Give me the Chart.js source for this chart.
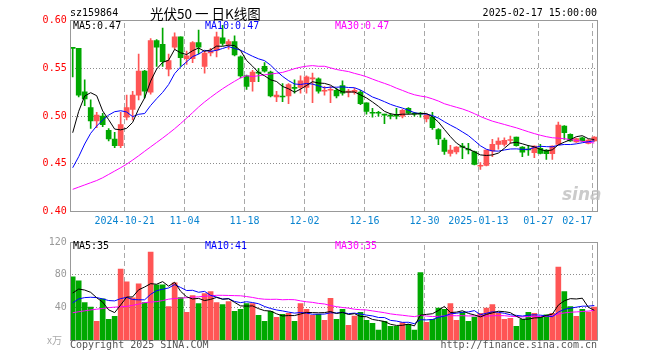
<!DOCTYPE html>
<html><head><meta charset="utf-8">
<script src="https://cdn.jsdelivr.net/npm/chart.js@4.4.1/dist/chart.umd.min.js"></script>
<style>
html,body{margin:0;padding:0;background:#fff;}
body{width:660px;height:360px;overflow:hidden;position:relative;font-family:"DejaVu Sans Mono",monospace;}
.t{position:absolute;white-space:nowrap;font-size:10px;line-height:12px;}
canvas{position:absolute;left:0;}
#c1{top:0;}
#c2{top:232px;}
</style></head><body>
<canvas id="c1" width="660" height="232"></canvas>
<canvas id="c2" width="660" height="128"></canvas>
<div class="t" style="left:70px;top:7px;color:#000">sz159864</div>
<div class="t" style="left:150px;top:4px;font-family:'Noto Sans CJK SC',sans-serif;font-size:13.5px;line-height:18px;color:#000">光伏50 一 日K线图</div>
<div class="t" style="right:63px;top:7px;color:#000">2025-02-17 15:00:00</div>
<div class="t" style="left:73px;top:20px;color:#000">MA5:0.47</div>
<div class="t" style="left:205px;top:20px;color:#00f">MA10:0.47</div>
<div class="t" style="left:335px;top:20px;color:#f0f">MA30:0.47</div>
<div class="t" style="left:73px;top:240px;color:#000">MA5:35</div>
<div class="t" style="left:205px;top:240px;color:#00f">MA10:41</div>
<div class="t" style="left:335px;top:240px;color:#f0f">MA30:35</div>
<div class="t" style="left:47px;top:334px;color:#aaa;font-family:'Noto Sans CJK SC',sans-serif;font-size:10px">x万</div>
<div class="t" style="left:70px;top:339px;color:#555">Copyright 2025 SINA.COM</div>
<div class="t" style="right:63px;top:339px;color:#555">http://finance.sina.com.cn</div>
<div class="t" style="left:562px;top:188px;color:rgba(190,190,190,0.8);font-family:'DejaVu Sans',sans-serif;font-size:17px;font-weight:bold;font-style:italic;">sina</div>
<script>
// ---------- data ----------
const dates = [
'2024-10-08','2024-10-09','2024-10-10','2024-10-11','2024-10-14','2024-10-15','2024-10-16','2024-10-17','2024-10-18',
'2024-10-21','2024-10-22','2024-10-23','2024-10-24','2024-10-25','2024-10-28','2024-10-29','2024-10-30','2024-10-31','2024-11-01',
'2024-11-04','2024-11-05','2024-11-06','2024-11-07','2024-11-08','2024-11-11','2024-11-12','2024-11-13','2024-11-14','2024-11-15',
'2024-11-18','2024-11-19','2024-11-20','2024-11-21','2024-11-22','2024-11-25','2024-11-26','2024-11-27','2024-11-28','2024-11-29',
'2024-12-02','2024-12-03','2024-12-04','2024-12-05','2024-12-06','2024-12-09','2024-12-10','2024-12-11','2024-12-12','2024-12-13',
'2024-12-16','2024-12-17','2024-12-18','2024-12-19','2024-12-20','2024-12-23','2024-12-24','2024-12-25','2024-12-26','2024-12-27',
'2024-12-30','2024-12-31','2025-01-02','2025-01-03','2025-01-06','2025-01-07','2025-01-08','2025-01-09','2025-01-10',
'2025-01-13','2025-01-14','2025-01-15','2025-01-16','2025-01-17','2025-01-20','2025-01-21','2025-01-22','2025-01-23','2025-01-24',
'2025-01-27','2025-02-05','2025-02-06','2025-02-07','2025-02-10','2025-02-11','2025-02-12','2025-02-13','2025-02-14','2025-02-17'];

const opens = [0.5712,0.571,0.5255,0.509,0.495,0.500,0.485,0.476,0.469,
0.499,0.507,0.522,0.547,0.525,0.579,0.575,0.549,0.572,0.583,
0.560,0.560,0.577,0.552,0.566,0.569,0.582,0.575,0.578,0.562,
0.542,0.536,0.546,0.552,0.546,0.520,0.521,0.521,0.530,0.530,
0.530,0.539,0.539,0.526,0.527,0.527,0.532,0.525,0.525,0.525,
0.514,0.504,0.5035,0.502,0.501,0.501,0.500,0.508,0.503,0.503,
0.497,0.499,0.486,0.475,0.461,0.4625,0.468,0.465,0.463,
0.4475,0.4485,0.4635,0.4705,0.4705,0.4745,0.478,0.4677,0.465,0.4617,
0.4662,0.4644,0.4607,0.4705,0.4896,0.481,0.473,0.4774,0.4715,0.474];
const highs = [0.571,0.571,0.538,0.517,0.504,0.503,0.487,0.483,0.504,
0.522,0.526,0.565,0.548,0.581,0.580,0.592,0.565,0.587,0.583,
0.568,0.578,0.590,0.568,0.571,0.588,0.595,0.580,0.584,0.563,
0.543,0.548,0.550,0.556,0.547,0.526,0.534,0.534,0.538,0.542,
0.542,0.545,0.540,0.531,0.531,0.529,0.537,0.528,0.529,0.527,
0.514,0.508,0.505,0.502,0.503,0.508,0.507,0.509,0.504,0.504,
0.502,0.504,0.487,0.477,0.4695,0.468,0.4715,0.4715,0.4635,
0.4513,0.4645,0.4757,0.4774,0.4774,0.479,0.478,0.468,0.4695,0.469,
0.4705,0.465,0.469,0.4938,0.490,0.4815,0.477,0.478,0.4755,0.4785];
const lows = [0.541,0.520,0.511,0.487,0.488,0.489,0.474,0.467,0.467,
0.496,0.496,0.517,0.519,0.523,0.552,0.552,0.542,0.570,0.552,
0.554,0.556,0.565,0.545,0.563,0.562,0.574,0.570,0.563,0.540,
0.528,0.526,0.536,0.546,0.520,0.515,0.515,0.513,0.524,0.524,
0.524,0.514,0.524,0.522,0.514,0.519,0.522,0.520,0.523,0.512,
0.502,0.499,0.500,0.492,0.497,0.497,0.498,0.502,0.500,0.499,
0.494,0.486,0.470,0.460,0.458,0.4605,0.4555,0.4605,0.449,
0.4443,0.448,0.4575,0.4653,0.4685,0.4715,0.4685,0.4575,0.459,0.4565,
0.4605,0.4548,0.4548,0.470,0.4757,0.4735,0.4725,0.4735,0.471,0.4735];
const closes = [0.5708,0.522,0.518,0.495,0.501,0.491,0.476,0.469,0.491,
0.509,0.522,0.547,0.526,0.579,0.572,0.557,0.558,0.583,0.561,
0.563,0.577,0.572,0.566,0.568,0.583,0.576,0.578,0.564,0.542,
0.531,0.546,0.545,0.547,0.521,0.522,0.520,0.533,0.529,0.537,
0.541,0.540,0.526,0.527,0.528,0.521,0.524,0.526,0.527,0.513,
0.505,0.503,0.503,0.501,0.500,0.500,0.506,0.503,0.502,0.502,
0.501,0.488,0.476,0.463,0.4645,0.4677,0.4675,0.4645,0.4495,
0.448,0.4645,0.4705,0.474,0.4747,0.475,0.469,0.4624,0.4645,0.4687,
0.461,0.4607,0.4687,0.4907,0.4826,0.474,0.4764,0.474,0.475,0.478];
// volume, 万
const volumes = [77.6,72.8,46.4,40.8,23.6,50.8,26,29.6,87.2,
71.6,52,69.2,46.4,107.6,68,68,41.6,70.4,52.4,
34.4,54.8,45.2,57.2,59.6,46.4,44,47.6,35.6,38,
45.2,45.2,30.8,23.6,35.6,28.4,32,33.2,23.6,45.2,
38,30.8,32,24.8,51.6,26,38,18.8,30,34.4,
24.8,21.2,12.8,23.6,17.6,17.6,22,20,12.8,82.8,
22.4,26,39.6,38,45.2,24.8,34.4,23.6,28.8,
33.2,39.6,44,33.6,26,27.2,17.6,26,34.4,33.2,
28.8,31.6,33.2,89.6,59.6,41.6,29.6,38,34.8,40.8];
// moving-average values before enough in-window history exists
const ma5Head  = [0.4826,0.505,0.521,0.5245];
const ma10Head = [0.446,0.4575,0.4708,0.482,0.4896,0.4959,0.5011,0.5046,0.5056];
const ma30Head = [0.4234,0.4257,0.428,0.4303,0.4326,0.4355,0.439,0.4425,0.446,0.4497,
0.454,0.4585,0.4632,0.4678,0.4724,0.477,0.4818,0.4868,0.4922,0.4978,
0.5036,0.5095,0.5148,0.5196,0.5242,0.5286,0.5326,0.5364,0.5400];
const vma5Head  = [58,62.8,61.6,58.8];
const vma10Head = [46,50.8,52.4,52.8,52.4,50.8,48.8,48.4,51.2];
const vma30Head = [34,35.2,36.3,37.4,38.3,39.2,40.2,40.8,41.2,41.7,
43,44.5,46.3,47,47.5,48.8,50.5,51.3,51.8,52.3,
52.8,53.4,54,54.6,55.2,55.2,55,54.8,54.6];
const tickDates = ['2024-10-21','2024-11-04','2024-11-18','2024-12-02','2024-12-16','2024-12-30','2025-01-13','2025-01-27','2025-02-17'];
const tickLabels = ['2024-10-21','11-04','11-18','12-02','12-16','12-30','2025-01-13','01-27','02-17     '];
const priceTicks = [0.40,0.45,0.50,0.55,0.60];
const volTicks = [0,40,80,120];

// ---------- helpers ----------
function movingAvg(vals, n, head){
  return vals.map((v,i)=> i < head.length ? head[i] : vals.slice(i-n+1,i+1).reduce((a,b)=>a+b,0)/n);
}
const RED='#ff5555', GREEN='#00a800';
const colors = closes.map((c,i)=> c >= opens[i] ? RED : GREEN);
const tickIdx = tickDates.map(d=>dates.indexOf(d));
const XMIN=-0.333, XMAX=87.5, GRIDSHIFT=-0.333;
const MONO={family:'DejaVu Sans Mono', size:10};
const GRID='#a8a8a8', DOTS='#8c8c8c';

// grid (at the scales' own tick positions), painted as pixel dashes behind the marks; then the frame
const frameGrid = {id:'frameGrid',
  afterDatasetsDraw(chart){
    const a=chart.chartArea, ctx=chart.ctx, xs=chart.scales.x, ys=chart.scales.y;
    const top=Math.floor(a.top), bot=Math.floor(a.bottom), lft=Math.floor(a.left), rgt=Math.floor(a.right);
    ctx.save();
    ctx.globalCompositeOperation='destination-over';
    ctx.fillStyle=GRID;
    for (const t of xs.ticks){
      const px=Math.floor(xs.getPixelForValue(t.value));
      for (let y=top+3; y<bot; y+=8) ctx.fillRect(px, y, 1, Math.min(5, bot-y));
    }
    ctx.fillStyle=DOTS;
    for (const t of ys.ticks){
      if (t.value<=ys.min+1e-9 || t.value>=ys.max-1e-9) continue;
      const py=Math.floor(ys.getPixelForValue(t.value));
      for (let x=lft+2; x<rgt; x+=3) ctx.fillRect(x, py, 1, 1);
    }
    ctx.restore();
    ctx.save(); ctx.fillStyle='#999';
    ctx.fillRect(lft, top, rgt-lft+1, 1);
    ctx.fillRect(lft, bot, rgt-lft+1, 1);
    ctx.fillRect(lft, top, 1, bot-top+1);
    ctx.fillRect(rgt, top, 1, bot-top+1);
    ctx.restore();
  }};
function line(label, vals, color){
  return {type:'line', label, data: vals.map((v,i)=>({x:i,y:v})), borderColor:color, borderWidth:1,
    pointRadius:0, tension:0, order:0, fill:false};
}
function xScale(showLabels, height){
  return {type:'linear', min:XMIN, max:XMAX, offset:false,
    afterFit:s=>{s.height=height;},
    afterBuildTicks:s=>{s.ticks = tickIdx.map(i=>({value:i+GRIDSHIFT}));},
    ticks:{display:showLabels, autoSkip:false, maxRotation:0, padding:4, color:'#0a84d0', font:MONO,
      callback:(v,k)=>tickLabels[k]},
    grid:{display:false, drawTicks:false, offset:false},
    border:{display:false}};
}

// ---------- price chart ----------
new Chart(document.getElementById('c1'), {
  type:'bar',
  data:{datasets:[
    line('MA5', movingAvg(closes,5,ma5Head), '#000'),
    line('MA10', movingAvg(closes,10,ma10Head), '#0000ff'),
    line('MA30', movingAvg(closes,30,ma30Head), '#ff00ff'),
    {label:'body', data: opens.map((o,i)=>({x:i,y:[o,closes[i]]})), backgroundColor:colors,
      barThickness:5, minBarLength:1, grouped:false, order:1, borderWidth:0},
    {label:'wick', data: lows.map((l,i)=>({x:i,y:[l,highs[i]]})), backgroundColor:colors,
      barThickness:1, grouped:false, order:2, borderWidth:0}
  ]},
  options:{responsive:false, animation:false, events:[],
    layout:{padding:{top:20.5,right:62.7,left:0,bottom:0}},
    plugins:{legend:{display:false}, tooltip:{enabled:false}},
    scales:{
      x: xScale(true, 20.3),
      y:{min:0.40, max:0.60,
        afterFit:s=>{s.width=70.7;},
        afterBuildTicks:s=>{s.ticks = priceTicks.map(v=>({value:v}));},
        ticks:{color:'#ff0000', font:MONO, padding:4, callback:v=>Number(v).toFixed(2)},
        grid:{display:false, drawTicks:false},
        border:{display:false}}
    }
  },
  plugins:[frameGrid]
});

// ---------- volume chart ----------
new Chart(document.getElementById('c2'), {
  type:'bar',
  data:{datasets:[
    line('MA5', movingAvg(volumes,5,vma5Head), '#000'),
    line('MA10', movingAvg(volumes,10,vma10Head), '#0000ff'),
    line('MA30', movingAvg(volumes,30,vma30Head), '#ff00ff'),
    {label:'vol', data: volumes.map((v,i)=>({x:i,y:v})), backgroundColor:colors,
      barThickness:5, grouped:false, order:1, borderWidth:0}
  ]},
  options:{responsive:false, animation:false, events:[],
    layout:{padding:{top:8.5,right:62.7,left:0,bottom:0}},
    plugins:{legend:{display:false}, tooltip:{enabled:false}},
    scales:{
      x: xScale(false, 19.3),
      y:{min:0, max:120,
        afterFit:s=>{s.width=70.7;},
        afterBuildTicks:s=>{s.ticks = volTicks.map(v=>({value:v}));},
        ticks:{color:'#999', font:MONO, padding:4, callback:v=> v===0 ? '' : String(v)},
        grid:{display:false, drawTicks:false},
        border:{display:false}}
    }
  },
  plugins:[frameGrid]
});
</script>
</body></html>
